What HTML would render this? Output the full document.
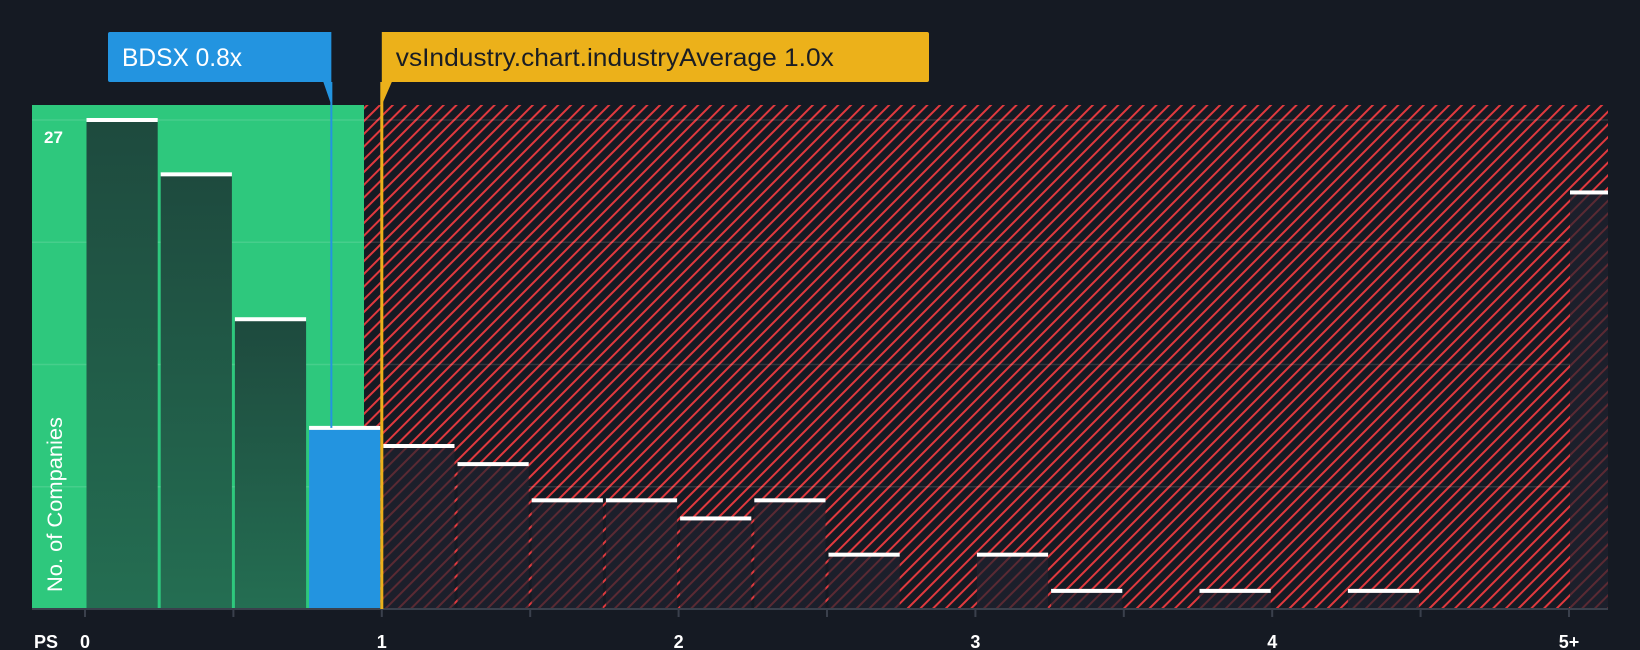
<!DOCTYPE html>
<html><head><meta charset="utf-8"><style>
html,body{margin:0;padding:0;background:#151a23;}
svg{display:block;font-family:"Liberation Sans",sans-serif;}
</style></head><body>
<svg id="chart" width="1640" height="650" viewBox="0 0 1640 650">
<defs>
<pattern id="hatch" patternUnits="userSpaceOnUse" width="9" height="9" patternTransform="rotate(45)">
<rect width="9" height="9" fill="#151a23"/>
<rect x="0" y="0" width="2" height="9" fill="#e0393e"/>
</pattern>
<pattern id="hatchDim" patternUnits="userSpaceOnUse" width="9" height="9" patternTransform="rotate(45)">
<rect width="9" height="9" fill="#1c1f2b"/>
<rect x="0" y="0" width="2" height="9" fill="#5a2a33"/>
</pattern>
<linearGradient id="gbar" x1="0" y1="0" x2="0" y2="1"><stop offset="0" stop-color="#1e4a3e"/><stop offset="1" stop-color="#246e52"/></linearGradient>
</defs>
<g id="layer"></g>
</svg>
<script>
const binStarts=[0,0.25,0.5,0.75,1,1.25,1.5,1.75,2,2.25,2.5,2.75,3,3.25,3.5,3.75,4,4.25,4.5,4.75];
const counts=[27,24,16,10,9,8,6,6,5,6,3,0,3,1,0,1,0,1,0,0];
const overflowCount=23;
const xTickLabels=["0","1","2","3","4","5+"];
const companyValue=0.83;
const industryValue=1.0;
const yMax=27;

const NS="http://www.w3.org/2000/svg";
const L=document.getElementById('layer');
const plotL=32,plotR=1608,plotT=105,base=609,x0=85,unit=296.8,yTop=120;
const X=v=>x0+v*unit;
const Y=v=>base-(v/yMax)*(base-yTop);
function mk(tag,attrs,parent){const e=document.createElementNS(NS,tag);for(const k in attrs)e.setAttribute(k,attrs[k]);(parent||L).appendChild(e);return e;}

const g1=mk('rect',{x:plotL,y:plotT,width:364-plotL,height:base-plotT,fill:'#2ec87d'});


const r1=mk('rect',{x:364,y:plotT,width:plotR-364,height:base-plotT,fill:'url(#hatch)'});


for(let i=1;i<=4;i++){
 const gv=yMax*i/4;
 const gl=mk('line',{x1:plotL,x2:plotR,y1:Y(gv),y2:Y(gv),stroke:'rgba(255,255,255,0.12)','stroke-width':1.5});
 
 
}
const bw=0.25*unit;
binStarts.forEach((s,i)=>{
 const v=counts[i]; if(v<=0) return;
 const xl=X(s)+1.5, w=bw-3, yt=Y(v);
 const isCo = companyValue>=s && companyValue<s+0.25;
 let fill = s+0.25<=1 ? 'url(#gbar)' : 'url(#hatchDim)';
 if(isCo) fill='#2394e0';
 const b=mk('rect',{x:xl,y:yt,width:w,height:base-yt,fill:fill});
 
 
 const c=mk('rect',{x:xl,y:yt-2,width:w,height:4,fill:'#ffffff'});
 
 
});
{const xl=X(5)+1,yt=Y(overflowCount);
 const b=mk('rect',{x:xl,y:yt,width:plotR-xl,height:base-yt,fill:'url(#hatchDim)'});
 
 
 const c=mk('rect',{x:xl,y:yt-2,width:plotR-xl,height:4,fill:'#ffffff'});
 
 }
const t27=mk('text',{x:44,y:143,fill:'#ffffff','font-size':17,'font-weight':'bold'});t27.textContent=String(yMax);


const yt=mk('text',{x:0,y:0,fill:'#ffffff','font-size':21,textLength:175,lengthAdjust:'spacingAndGlyphs',transform:'translate(62,592) rotate(-90)'});yt.textContent='No. of Companies';


const ax=mk('line',{x1:plotL,x2:plotR,y1:base,y2:base,stroke:'#3a404c','stroke-width':2});


for(let v=0;v<=5;v+=0.5){
 const tk=mk('line',{x1:X(v),x2:X(v),y1:base,y2:base+8,stroke:'#3a404c','stroke-width':2});
 
 
}
xTickLabels.forEach((lab,i)=>{
 const t=mk('text',{x:X(i),y:648,fill:'#ffffff','font-size':18,'font-weight':'bold','text-anchor':i==0?'start':'middle'});
 if(i==0)t.setAttribute('x',X(0)-5);
 t.textContent=lab;
 
 
});
const ps=mk('text',{x:34,y:648,fill:'#ffffff','font-size':18,'font-weight':'bold'});ps.textContent='PS';


const il=mk('line',{x1:X(industryValue),x2:X(industryValue),y1:82,y2:base,stroke:'#ecb11a','stroke-width':3});


const cl=mk('line',{x1:X(companyValue),x2:X(companyValue),y1:82,y2:Y(counts[3]),stroke:'#2394e0','stroke-width':2});


const cx=X(companyValue);
const bb=mk('path',{d:`M108 34 Q108 32 110 32 L${cx} 32 L${cx} 105 L${cx-8} 82 L110 82 Q108 82 108 80 Z`,fill:'#2394e0'});


const bt=mk('text',{x:122,y:66,fill:'#ffffff','font-size':25,textLength:120,lengthAdjust:'spacingAndGlyphs'});bt.textContent='BDSX '+companyValue.toFixed(1)+'x';


const ix=X(industryValue);
const yb=mk('path',{d:`M${ix} 32 L927 32 Q929 32 929 34 L929 80 Q929 82 927 82 L${ix+10} 82 L${ix} 105 Z`,fill:'#ecb11a'});


const ytx=mk('text',{x:ix+14,y:66,fill:'#1a1d24','font-size':25,textLength:438,lengthAdjust:'spacingAndGlyphs'});ytx.textContent='vsIndustry.chart.industryAverage '+industryValue.toFixed(1)+'x';


</script>
</body></html>
